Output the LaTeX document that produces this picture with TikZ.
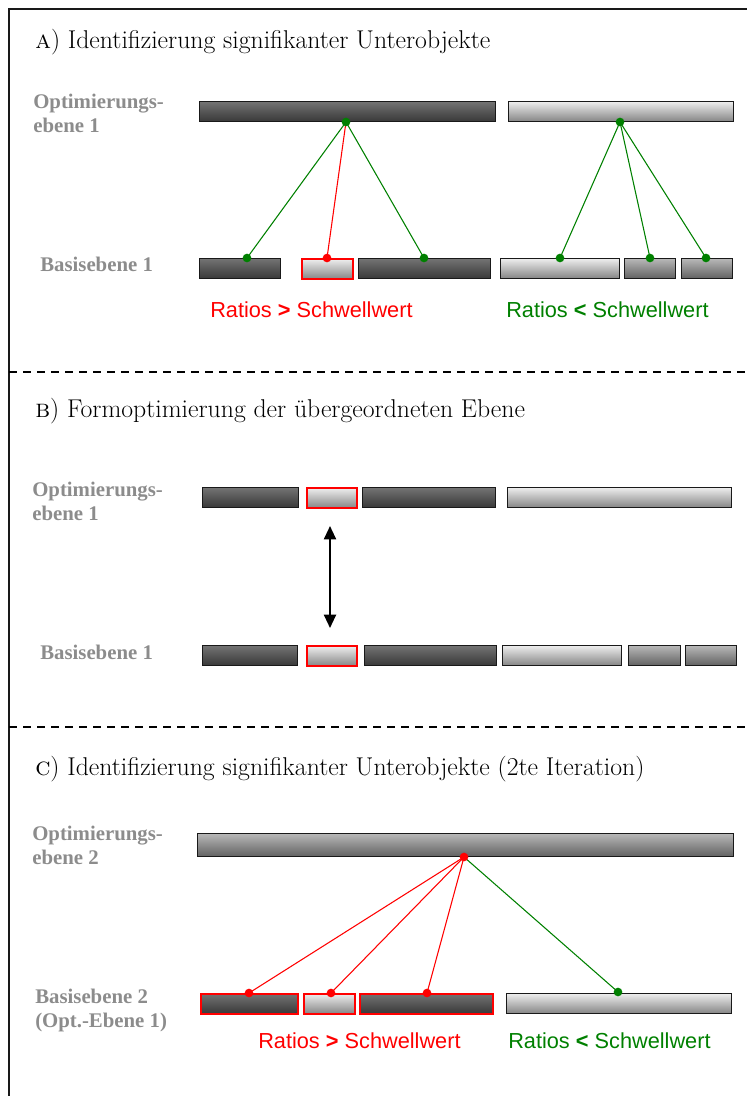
\documentclass[tikz,border=0pt]{standalone}
\usepackage{fontspec}
\newfontfamily\lab{Liberation Serif}
\newfontfamily\arial{Liberation Sans}
\usetikzlibrary{arrows.meta}
\definecolor{labgray}{HTML}{8C8C8C}
\definecolor{dgreen}{HTML}{008000}
\definecolor{dred}{HTML}{FF0000}
\tikzset{
  x=0.75pt, y=-0.75pt,
  darkbar/.style={draw=black!90, line width=0.9pt, top color=black!55, bottom color=black!78, inner sep=0pt},
  lightbar/.style={draw=black!90, line width=0.9pt, top color=black!7, bottom color=black!48, inner sep=0pt},
  midbar/.style={draw=black!90, line width=0.9pt, top color=black!28, bottom color=black!62, inner sep=0pt},
  redlight/.style={lightbar, draw=dred, line width=1.7pt},
  redthin/.style={draw=dred, line width=1.3pt},
  gdot/.style={circle, fill=dgreen, inner sep=0pt, minimum size=6.5pt},
  rdot/.style={circle, fill=dred, inner sep=0pt, minimum size=6.5pt},
  gline/.style={dgreen, line width=0.8pt},
  rline/.style={dred, line width=0.8pt},
  title/.style={anchor=base west, inner sep=0pt, font=\fontsize{19.3}{22}\selectfont},
  lvl/.style={anchor=north west, inner sep=0pt, align=left, text=labgray, font=\lab\bfseries\fontsize{15.6}{17.5}\selectfont},
  ratio/.style={anchor=base west, inner sep=0pt, font=\arial\fontsize{16.3}{19}\selectfont},
  sep/.style={line width=0.9pt, dash pattern=on 6pt off 4.5pt},
}
\newcommand\barnode[6]{\node[#2, anchor=north west, minimum width={(#5-#3)*0.75pt}, minimum height={(#6-#4)*0.75pt}] (#1) at (#3,#4) {};}
\begin{document}
\begin{tikzpicture}
\useasboundingbox (0,0) rectangle (747,1096);
% frame
\coordinate (fbl) at (9,1096);
\coordinate (ftl) at (9,9);
\coordinate (ftr) at (747,9);
\draw[line width=1.1pt, black!90] (fbl) -- (ftl) -- (ftr);
% separators
\coordinate (s1a) at (9,372); \coordinate (s1b) at (747,372);
\coordinate (s2a) at (9,727); \coordinate (s2b) at (747,727);
\draw[sep] (s1a) -- (s1b);
\draw[sep] (s2a) -- (s2b);

% ===== A =====
\node[title] (tA) at (35,48) {\textsc{a}) Identifizierung signifikanter Unterobjekte};
\node[lvl] (lA1) at (33,94) {Optimierungs-\\ebene 1};
\node[lvl] (lA2) at (40,257) {Basisebene 1};
\barnode{A1}{darkbar}{199}{101}{495}{121}
\barnode{A2}{lightbar}{508}{101}{733}{121}
\barnode{a1}{darkbar}{199}{258}{280}{278}
\barnode{a2}{redlight}{301}{258}{352}{278}
\barnode{a3}{darkbar}{358}{258}{490}{278}
\barnode{a4}{lightbar}{500}{258}{619}{278}
\barnode{a5}{midbar}{624}{258}{675}{278}
\barnode{a6}{midbar}{681}{258}{732}{278}
\coordinate (pA1) at (346,122);
\coordinate (pA2) at (620,122);
\coordinate (pa1) at (247,258);
\coordinate (pa2) at (327,258);
\coordinate (pa3) at (424,258);
\coordinate (pa4) at (560,258);
\coordinate (pa5) at (650,258);
\coordinate (pa6) at (706,258);
\draw[gline] (pA1) -- (pa1);
\draw[rline] (pA1) -- (pa2);
\draw[gline] (pA1) -- (pa3);
\draw[gline] (pA2) -- (pa4);
\draw[gline] (pA2) -- (pa5);
\draw[gline] (pA2) -- (pa6);
\node[gdot] (dA1) at (pA1) {};
\node[gdot] (dA2) at (pA2) {};
\node[gdot] (da1) at (pa1) {};
\node[rdot] (da2) at (pa2) {};
\node[gdot] (da3) at (pa3) {};
\node[gdot] (da4) at (pa4) {};
\node[gdot] (da5) at (pa5) {};
\node[gdot] (da6) at (pa6) {};
\node[ratio, text=dred] (rA1) at (210,317) {Ratios \textbf{>} Schwellwert};
\node[ratio, text=dgreen] (rA2) at (506,317) {Ratios \textbf{<} Schwellwert};

% ===== B =====
\node[title] (tB) at (35,417) {\textsc{b}) Formoptimierung der übergeordneten Ebene};
\node[lvl] (lB1) at (32,482) {Optimierungs-\\ebene 1};
\node[lvl] (lB2) at (40,645) {Basisebene 1};
\barnode{B1}{darkbar}{202}{487}{298}{507}
\barnode{B2}{redlight}{306}{487}{356}{507}
\barnode{B3}{darkbar}{362}{487}{495}{507}
\barnode{B4}{lightbar}{507}{487}{731}{507}
\barnode{b1}{darkbar}{202}{645}{297}{665}
\barnode{b2}{redlight}{306}{645}{356}{665}
\barnode{b3}{darkbar}{364}{645}{496}{665}
\barnode{b4}{lightbar}{502}{645}{621}{665}
\barnode{b5}{midbar}{628}{645}{680}{665}
\barnode{b6}{midbar}{685}{645}{736}{665}
\coordinate (arT) at (330,526);
\coordinate (arB) at (330,628);
\draw[line width=1.5pt, {Triangle[width=9pt,length=10pt]}-{Triangle[width=9pt,length=10pt]}] (arT) -- (arB);

% ===== C =====
\node[title] (tC) at (35,775) {\textsc{c}) Identifizierung signifikanter Unterobjekte (2te Iteration)};
\node[lvl] (lC1) at (32,826) {Optimierungs-\\ebene 2};
\node[lvl] (lC2) at (35,989) {Basisebene 2\\(Opt.-Ebene 1)};
\barnode{C1}{midbar}{197}{833}{733}{856}
\barnode{c1}{darkbar,redthin}{200}{993}{297}{1013}
\barnode{c2}{lightbar,redthin}{303}{993}{354}{1013}
\barnode{c3}{darkbar,redthin}{359}{993}{492}{1013}
\barnode{c4}{lightbar}{506}{993}{731}{1013}
\coordinate (pC1) at (464,857);
\coordinate (pc1) at (249,993);
\coordinate (pc2) at (331,993);
\coordinate (pc3) at (427,993);
\coordinate (pc4) at (618,992);
\draw[rline] (pC1) -- (pc1);
\draw[rline] (pC1) -- (pc2);
\draw[rline] (pC1) -- (pc3);
\draw[gline] (pC1) -- (pc4);
\node[rdot] (dC1) at (pC1) {};
\node[rdot] (dc1) at (pc1) {};
\node[rdot] (dc2) at (pc2) {};
\node[rdot] (dc3) at (pc3) {};
\node[gdot] (dc4) at (pc4) {};
\node[ratio, text=dred] (rC1) at (258,1048) {Ratios \textbf{>} Schwellwert};
\node[ratio, text=dgreen] (rC2) at (508,1048) {Ratios \textbf{<} Schwellwert};
\end{tikzpicture}
\end{document}
